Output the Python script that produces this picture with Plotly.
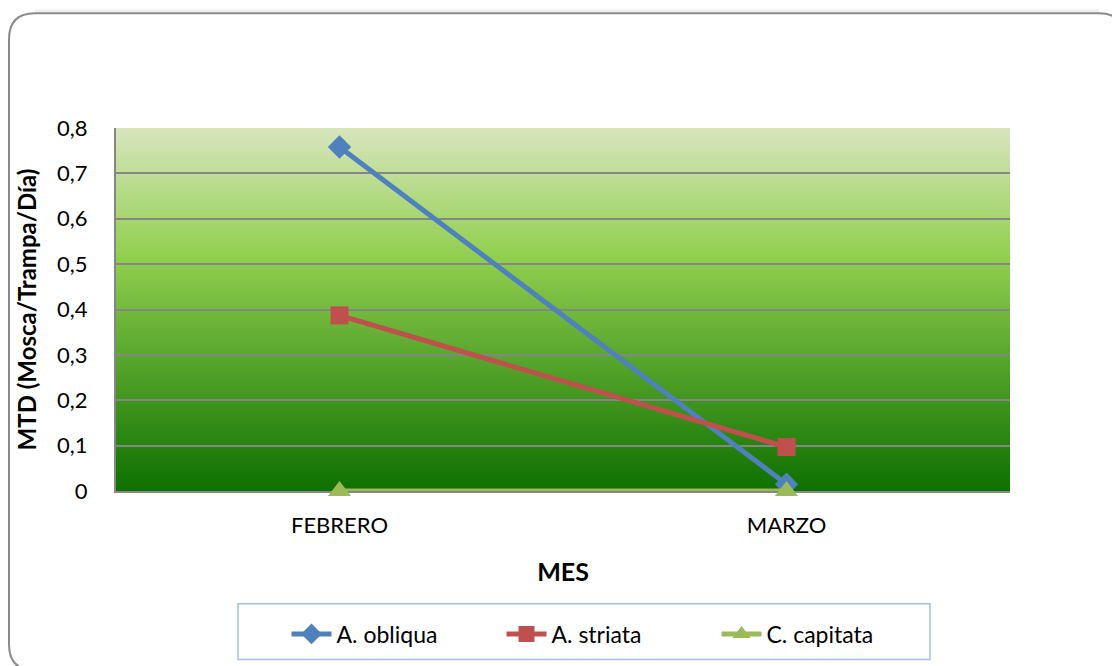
import plotly.graph_objects as go

# ---- data ----
categories = ["FEBRERO", "MARZO"]
a_obliqua = [0.758, 0.015]
a_striata = [0.387, 0.097]
c_capitata = [0.0, 0.0]
y_ticks = [0, 0.1, 0.2, 0.3, 0.4, 0.5, 0.6, 0.7, 0.8]
y_ticklabels = ["0", "0,1", "0,2", "0,3", "0,4", "0,5", "0,6", "0,7", "0,8"]

FONT = "Lato, 'Open Sans', sans-serif"

fig = go.Figure()
fig.add_trace(go.Scatter(x=categories, y=a_obliqua, name="A. obliqua", mode="lines+markers",
                         line=dict(color="#4F81BD", width=5),
                         marker=dict(symbol="diamond", size=18, color="#4F81BD"),
                         cliponaxis=False))
fig.add_trace(go.Scatter(x=categories, y=a_striata, name="A. striata", mode="lines+markers",
                         line=dict(color="#C0504D", width=5),
                         marker=dict(symbol="square", size=18, color="#C0504D"),
                         cliponaxis=False))
fig.add_trace(go.Scatter(x=categories, y=c_capitata, name="C. capitata", mode="lines+markers",
                         line=dict(color="#9BBB59", width=5),
                         marker=dict(symbol="triangle-up", size=20, color="#9BBB59"),
                         cliponaxis=False))

# ---- gradient background (stripes in axis-domain coordinates) ----
stops = [(0.0, (14, 112, 0)), (0.65, (146, 208, 80)), (1.0, (216, 229, 190))]


def grad(t):
    for (t0, c0), (t1, c1) in zip(stops[:-1], stops[1:]):
        if t0 <= t <= t1:
            f = (t - t0) / (t1 - t0)
            return "rgb(%d,%d,%d)" % tuple(round(a + (b - a) * f) for a, b in zip(c0, c1))
    return "rgb(%d,%d,%d)" % stops[-1][1]


shapes = []
N = 120
for i in range(N):
    y0 = i / N
    y1 = (i + 1) / N + 0.002
    shapes.append(dict(type="rect", xref="x domain", yref="y domain", x0=0, x1=1, y0=y0, y1=min(y1, 1),
                       fillcolor=grad((i + 0.5) / N), line=dict(width=0), layer="below"))

# ---- outer rounded frame (paper coordinates) ----
L, T, R, B = 116, 128, 1010, 492


def px(x):
    return (x - L) / (R - L)


def py(y):
    return (B - y) / (B - T)


fx0, fy0, fx1, fy1, r = 9, 13, 1125, 672, 26
path = (f"M {px(fx0)},{py(fy0 + r)} Q {px(fx0)},{py(fy0)} {px(fx0 + r)},{py(fy0)} "
        f"L {px(fx1 - r)},{py(fy0)} Q {px(fx1)},{py(fy0)} {px(fx1)},{py(fy0 + r)} "
        f"L {px(fx1)},{py(fy1 - r)} Q {px(fx1)},{py(fy1)} {px(fx1 - r)},{py(fy1)} "
        f"L {px(fx0 + r)},{py(fy1)} Q {px(fx0)},{py(fy1)} {px(fx0)},{py(fy1 - r)} Z")
# soft shadow above the top edge
shapes.append(dict(type="line", xref="paper", yref="paper", x0=px(fx0 + r), x1=px(fx1 - r),
                   y0=py(fy0 - 2), y1=py(fy0 - 2), line=dict(color="rgba(0,0,0,0.06)", width=4),
                   layer="below"))
shapes.append(dict(type="path", xref="paper", yref="paper", path=path,
                   line=dict(color="#8A8A8A", width=2), layer="below"))
# legend box
shapes.append(dict(type="rect", xref="paper", yref="paper", x0=px(238), x1=px(930), y0=py(605), y1=py(661),
                   line=dict(color="#A7C0E2", width=1.5), fillcolor="rgba(0,0,0,0)", layer="below"))

fig.update_layout(
    width=1112, height=666,
    margin=dict(l=L, r=1112 - R, t=T, b=666 - B, pad=0),
    paper_bgcolor="white", plot_bgcolor="white",
    separators=",.",
    font=dict(family=FONT, size=22, color="black"),
    shapes=shapes,
    showlegend=True,
    legend=dict(orientation="h", x=px(609), xanchor="center", y=py(634), yanchor="middle",
                font=dict(family=FONT, size=23, color="black"), bgcolor="rgba(0,0,0,0)",
                entrywidth=160, itemwidth=40, traceorder="normal"),
    xaxis=dict(type="category", range=[-0.5, 1.5], showgrid=False, zeroline=False,
               showline=True, linecolor="#868686", linewidth=2, ticks="", ticklen=0,
               ticklabelstandoff=14, layer="below traces",
               tickfont=dict(family=FONT, size=22),
               title=dict(text="<b>MES</b>", font=dict(family=FONT, size=25), standoff=26)),
    yaxis=dict(range=[0, 0.8], tickvals=y_ticks, ticktext=y_ticklabels, showgrid=True,
               gridcolor="#868686", gridwidth=2, zeroline=False, showline=True,
               linecolor="#868686", linewidth=2, ticks="", ticklabelstandoff=22,
               layer="below traces",
               tickfont=dict(family=FONT, size=22),
               title=dict(text="<b>MTD (Mosca/Trampa/Día)</b>", font=dict(family=FONT, size=24), standoff=14)),
)

fig.write_html("out.html", config={"displayModeBar": False},
               post_script="document.body.style.margin='0';document.body.style.overflow='hidden';")
